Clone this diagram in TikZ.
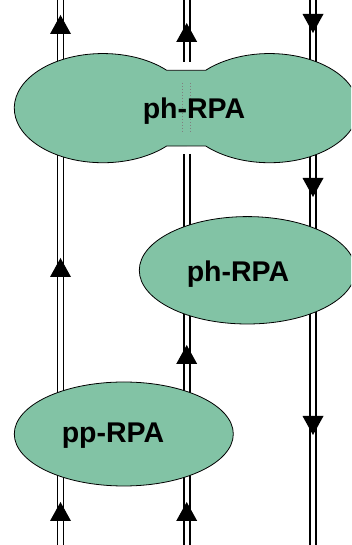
\documentclass[tikz,border=0pt]{standalone}
\usepackage{fontspec}
\setmainfont{Liberation Sans}
\usetikzlibrary{shapes.geometric}
\definecolor{blobgreen}{RGB}{130,195,165}
\tikzset{
  dbl/.style={draw=black,line width=1.6pt,double=white,double distance=4.4pt},
  blob/.style={ellipse,draw=black,line width=0.8pt,fill=blobgreen,inner sep=0pt},
  lbl/.style={anchor=base,inner sep=0pt,font=\fontsize{28.5}{31}\selectfont\bfseries},
  arr/.style={fill=black,draw=none}
}
\newcommand{\myuparr}[2]{\fill[arr] (#1,#2) -- ++(-10.5,-19) -- ++(21,0) -- cycle;}
\newcommand{\mydownarr}[2]{\fill[arr] (#1,#2) -- ++(-10.5,19) -- ++(21,0) -- cycle;}
\begin{document}
\begin{tikzpicture}[x=1pt,y=1pt]
\useasboundingbox (0,0) rectangle (351,545);
\clip (0,0) rectangle (351,545);
% line end points
\coordinate (Lt) at (60.5,550);
\coordinate (Lb) at (60.5,-5);
\coordinate (Mt) at (186.7,550);
\coordinate (Mn1) at (186.7,483);
\coordinate (Mn2) at (186.7,391);
\coordinate (Mb) at (186.7,-5);
\coordinate (Rt) at (313,550);
\coordinate (Rb) at (313,-5);
\draw[dbl] (Lt) -- (Lb);
\draw[dbl] (Mt) -- (Mn1);
\draw[dbl] (Mn2) -- (Mb);
\draw[dbl] (Rt) -- (Rb);
% arrows
\myuparr{60.5}{530}
\myuparr{60.5}{287}
\myuparr{60.5}{43}
\myuparr{186.7}{522}
\myuparr{186.7}{200}
\myuparr{186.7}{43}
\mydownarr{313}{512}
\mydownarr{313}{348}
\mydownarr{313}{110}
% top double blob
\filldraw[fill=blobgreen,draw=black,line width=0.8pt]
  (166.7,474.7) arc[start angle=43.9,end angle=316.1,x radius=88.6,y radius=54.6]
  -- (205.7,399)
  arc[start angle=223.9,end angle=496.1,x radius=88.6,y radius=54.6]
  -- cycle;
\coordinate (d1t) at (182.7,462);
\coordinate (d1b) at (182.7,412);
\coordinate (d2t) at (190.7,462);
\coordinate (d2b) at (190.7,412);
\draw[gray,dotted,line width=1pt] (d1t) -- (d1b);
\draw[gray,dotted,line width=1pt] (d2t) -- (d2b);
\node[lbl] (t1) at (194,426.7) {ph-RPA};
% middle blob
\node[blob,minimum width=216pt,minimum height=107.4pt] (e2) at (247.3,274.7) {};
\node[lbl] (t2) at (238,263.3) {ph-RPA};
% bottom blob
\node[blob,minimum width=219pt,minimum height=104pt] (e3) at (123.8,111) {};
\node[lbl] (t3) at (113,102) {pp-RPA};
\end{tikzpicture}
\end{document}
